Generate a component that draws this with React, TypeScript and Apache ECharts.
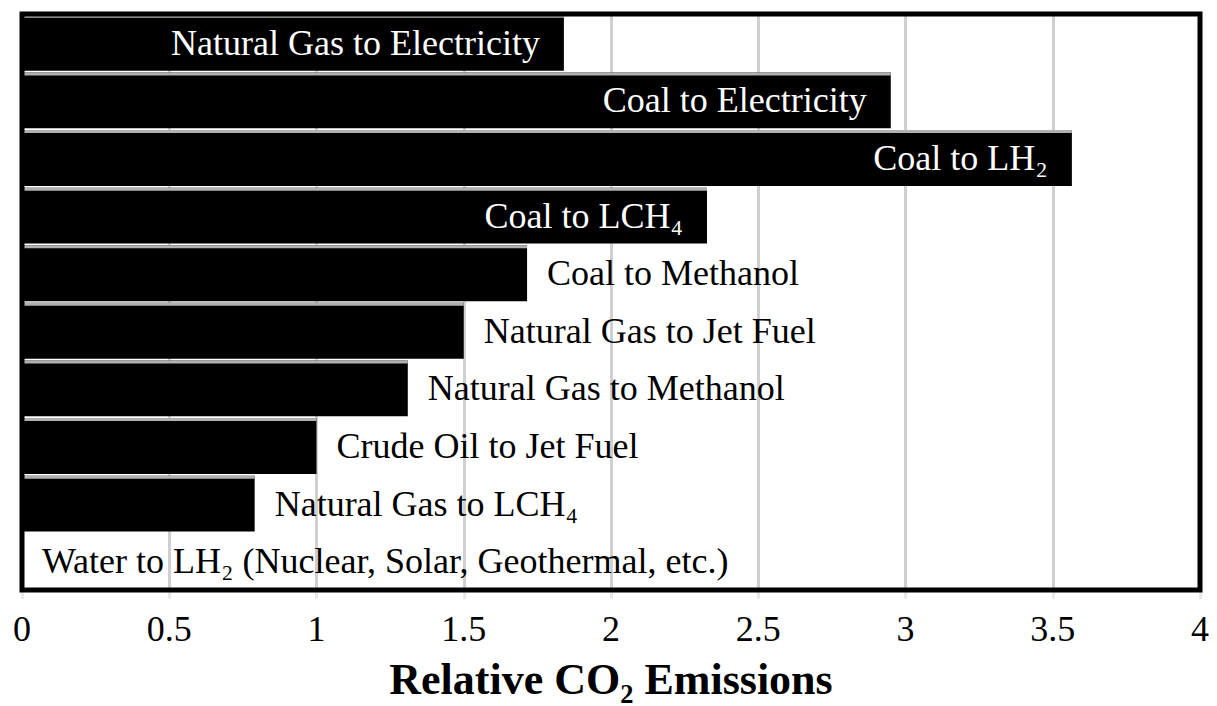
import React, { useEffect, useRef } from "react";
import * as echarts from "echarts";

const categories = [
  "Natural Gas to Electricity",
  "Coal to Electricity",
  "Coal to LH₂",
  "Coal to LCH₄",
  "Coal to Methanol",
  "Natural Gas to Jet Fuel",
  "Natural Gas to Methanol",
  "Crude Oil to Jet Fuel",
  "Natural Gas to LCH₄",
  "Water to LH₂ (Nuclear, Solar, Geothermal, etc.)",
];
const emissions = [1.84, 2.95, 3.565, 2.326, 1.715, 1.5, 1.31, 1.0, 0.79, 0];
const axisTitle = "Relative CO₂ Emissions";
const insideThreshold = 1.8;

const FONT = '"Liberation Serif", "Times New Roman", "DejaVu Serif", serif';
const GAP = 0.03;

export default function App() {
  const ref = useRef<HTMLDivElement>(null);
  useEffect(() => {
    if (!ref.current) return;
    const chart = echarts.init(ref.current, null, { renderer: "svg" });
    chart.setOption({
      animation: false,
      backgroundColor: "#ffffff",
      grid: {
        left: 22,
        right: 17,
        top: 14,
        bottom: 106,
        show: true,
        borderColor: "#000",
        borderWidth: 5,
        backgroundColor: "transparent",
        z: 5,
      },
      xAxis: {
        type: "value",
        min: 0,
        max: 4,
        interval: 0.5,
        axisLine: { show: false },
        axisTick: {
          show: true,
          length: 9,
          lineStyle: { color: "#e8e8e8", width: 3 },
        },
        splitLine: { show: true, lineStyle: { color: "#d0d0d0", width: 3 } },
        axisLabel: {
          fontFamily: FONT,
          fontSize: 36,
          color: "#000",
          margin: 21,
          formatter: (v: number) => String(v),
        },
        name: axisTitle,
        nameLocation: "middle",
        nameGap: 67,
        nameTextStyle: {
          fontFamily: FONT,
          fontSize: 44,
          fontWeight: "bold",
          color: "#000",
        },
      },
      yAxis: {
        type: "category",
        inverse: true,
        data: categories,
        axisLine: { show: false },
        axisTick: { show: false },
        axisLabel: { show: false },
        splitLine: { show: false },
      },
      series: [
        {
          type: "bar",
          barCategoryGap: GAP * 100 + "%",
          itemStyle: { color: "#000" },
          data: emissions.map((v) => {
            const inside = v > insideThreshold;
            return {
              value: v,
              label: {
                show: true,
                position: inside ? "insideRight" : "right",
                distance: inside ? 24 : 20,
                color: inside ? "#fff" : "#000",
              },
            };
          }),
          label: {
            show: true,
            fontFamily: FONT,
            fontSize: 36,
            formatter: (p: any) => categories[p.dataIndex],
          },
          z: 2,
        },
        {
          type: "custom",
          silent: true,
          z: 3,
          encode: { x: 0, y: 1 },
          data: emissions.map((v, i) => [v, i]),
          renderItem: (params: any, api: any) => {
            const v = api.value(0);
            const idx = api.value(1);
            if (!v) return null;
            const start = api.coord([0, idx]);
            const end = api.coord([v, idx]);
            const band = api.size([0, 1])[1];
            const barH = band * (1 - GAP);
            const top = start[1] - barH / 2;
            return {
              type: "rect",
              shape: { x: start[0], y: top, width: end[0] - start[0], height: 3 },
              style: { fill: "#b0b0b0" },
            };
          },
        },
      ],
    });
    return () => chart.dispose();
  }, []);
  return (
    <div
      ref={ref}
      style={{ position: "fixed", left: 0, top: 0, width: 1217, height: 706 }}
    />
  );
}
